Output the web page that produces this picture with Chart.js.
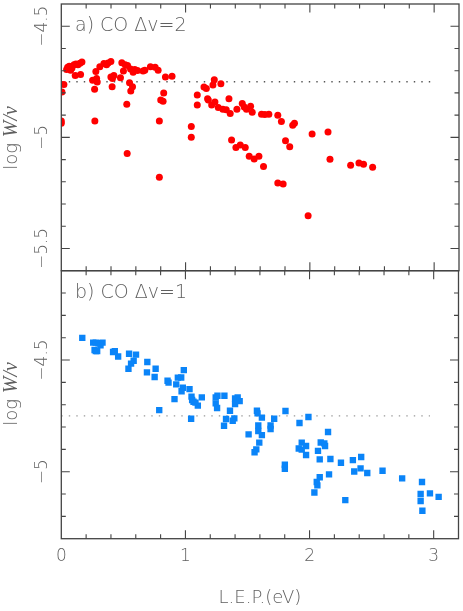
<!DOCTYPE html>
<html>
<head>
<meta charset="utf-8">
<script src="https://cdn.jsdelivr.net/npm/chart.js@4.4.1/dist/chart.umd.min.js"></script>
<style>
  html, body { margin: 0; padding: 0; background: #fff; }
  #wrap { position: relative; width: 463px; height: 611px; }
  #wrap canvas { position: absolute; left: 0; top: 0; }
</style>
</head>
<body>
<div id="wrap">
  <canvas id="dv2" width="463" height="611"></canvas>
  <canvas id="dv1" width="463" height="611"></canvas>
</div>
<script>
// panel a) CO dv=2
const dv2_lep = [0.000,0.000,0.005,0.021,0.043,0.051,0.064,0.075,0.086,0.102,
  0.118,0.134,0.150,0.166,0.112,0.155,0.252,0.268,0.270,0.278,
  0.284,0.289,0.310,0.343,0.364,0.377,0.399,0.399,0.412,0.409,
  0.423,0.476,0.487,0.500,0.514,0.533,0.527,0.530,0.549,0.559,
  0.573,0.557,0.578,0.591,0.613,0.658,0.672,0.717,0.755,0.779,
  0.789,0.789,0.800,0.819,0.824,0.838,0.891,1.046,1.046,1.094,
  1.094,1.148,1.167,1.177,1.183,1.210,1.220,1.231,1.236,1.263,
  1.284,1.300,1.327,1.349,1.359,1.370,1.405,1.413,1.440,1.456,
  1.472,1.480,1.490,1.512,1.523,1.536,1.552,1.590,1.611,1.627,
  1.638,1.670,1.742,1.742,1.771,1.785,1.804,1.838,1.862,1.876,
  1.986,2.018,2.146,2.162,2.328,2.395,2.432,2.505];
const dv2_logw = [-4.926,-4.936,-4.796,-4.762,-4.695,-4.685,-4.680,-4.698,-4.688,-4.673,
  -4.670,-4.673,-4.667,-4.661,-4.722,-4.717,-4.743,-4.784,-4.926,-4.704,
  -4.735,-4.751,-4.682,-4.668,-4.673,-4.665,-4.659,-4.729,-4.735,-4.772,
  -4.722,-4.732,-4.664,-4.702,-4.673,-4.677,-4.851,-5.073,-4.754,-4.792,
  -4.772,-4.692,-4.707,-4.695,-4.699,-4.701,-4.698,-4.682,-4.685,-4.698,
  -4.926,-5.179,-4.832,-4.838,-4.801,-4.729,-4.725,-4.951,-4.999,-4.810,
  -4.854,-4.774,-4.780,-4.826,-4.832,-4.854,-4.765,-4.741,-4.841,-4.866,
  -4.759,-4.874,-4.876,-4.826,-4.893,-5.012,-5.046,-4.874,-5.034,-4.848,
  -4.863,-5.046,-4.874,-5.085,-4.860,-4.887,-5.097,-5.085,-4.896,-5.131,
  -4.897,-4.896,-4.900,-5.205,-4.929,-5.210,-5.015,-5.042,-4.945,-4.936,
  -5.353,-4.985,-4.976,-5.098,-5.125,-5.115,-5.121,-5.135];

// panel b) CO dv=1
const dv1_lep = [0.169,0.257,0.278,0.300,0.316,0.332,0.278,0.289,0.268,0.417,
  0.431,0.458,0.546,0.602,0.583,0.562,0.541,0.693,0.690,0.760,
  0.752,0.856,0.864,0.926,0.939,0.966,0.987,0.979,0.969,0.912,
  0.789,1.033,1.049,1.054,1.065,1.100,1.046,1.132,1.244,1.258,
  1.314,1.244,1.255,1.400,1.421,1.437,1.400,1.359,1.327,1.311,
  1.394,1.381,1.576,1.581,1.616,1.715,1.806,1.587,1.587,1.616,
  1.509,1.686,1.686,1.595,1.571,1.557,1.919,1.991,2.149,1.937,
  1.972,1.913,1.937,1.972,2.068,2.082,2.090,2.119,2.125,2.168,
  1.801,1.801,2.082,2.058,2.063,2.039,2.157,2.253,2.349,2.416,
  2.360,2.411,2.465,2.288,2.588,2.746,2.906,2.895,2.895,2.970,
  3.040,2.909,1.081];
const dv1_logw = [-4.401,-4.422,-4.422,-4.425,-4.434,-4.422,-4.460,-4.460,-4.455,-4.464,
  -4.460,-4.484,-4.472,-4.476,-4.503,-4.516,-4.539,-4.509,-4.555,-4.539,
  -4.576,-4.593,-4.601,-4.609,-4.579,-4.578,-4.545,-4.624,-4.640,-4.675,
  -4.724,-4.630,-4.664,-4.679,-4.687,-4.704,-4.763,-4.667,-4.667,-4.660,
  -4.660,-4.694,-4.715,-4.672,-4.667,-4.684,-4.697,-4.727,-4.764,-4.794,
  -4.761,-4.772,-4.727,-4.739,-4.758,-4.763,-4.728,-4.793,-4.818,-4.836,
  -4.833,-4.793,-4.809,-4.870,-4.900,-4.913,-4.782,-4.755,-4.822,-4.870,
  -4.885,-4.896,-4.901,-4.925,-4.907,-4.945,-4.869,-4.873,-4.885,-4.943,
  -4.969,-4.987,-5.025,-5.046,-5.061,-5.093,-5.012,-4.960,-4.948,-4.934,
  -4.999,-4.985,-5.006,-5.127,-4.996,-5.030,-5.046,-5.100,-5.131,-5.097,
  -5.113,-5.175,-4.691];

// dotted reference level
const ref_lep = [0, 2.97];
const ref_level = -4.75;

// axes
const x_range = [0, 3.2];
const x_ticks = [0, 1, 2, 3];
const dv2_range = [-5.6, -4.4];
const dv2_ticks = [-4.5, -5, -5.5];
const dv1_range = [-5.3, -4.1];
const dv1_ticks = [-4.5, -5];

const INK = '#444';
const TXT = '#606060';
const FONT = "'DejaVu Sans', sans-serif";
const W = '200 ';
const ITAL = 'italic 20px "Liberation Serif", serif';

function fmt(v) {
  return (v < 0 ? '\u2212' : '') + String(Math.abs(v));
}

// frame, inward ticks on four sides, labels
const framePlugin = {
  id: 'frame',
  afterDraw(chart, args, o) {
    const ctx = chart.ctx;
    const a = chart.chartArea;
    const xs = chart.scales.x, ys = chart.scales.y;
    ctx.save();
    ctx.strokeStyle = INK;
    ctx.lineWidth = 1.3;
    ctx.strokeRect(a.left, a.top, a.right - a.left, a.bottom - a.top);

    ctx.lineWidth = 1.1;
    ctx.beginPath();
    for (let k = 1; k < 16; k++) {
      const v = k * 0.2;
      const px = xs.getPixelForValue(v);
      const len = (k % 5 === 0) ? 8.5 : 4.5;
      ctx.moveTo(px, a.bottom); ctx.lineTo(px, a.bottom - len);
      ctx.moveTo(px, a.top); ctx.lineTo(px, a.top + len);
    }
    const y0 = Math.round(ys.min * 10) + 1, y1 = Math.round(ys.max * 10) - 1;
    for (let k = y0; k <= y1; k++) {
      const py = ys.getPixelForValue(k / 10);
      const len = (k % 5 === 0) ? 8.5 : 4.5;
      ctx.moveTo(a.left, py); ctx.lineTo(a.left + len, py);
      ctx.moveTo(a.right, py); ctx.lineTo(a.right - len, py);
    }
    ctx.stroke();

    ctx.fillStyle = TXT;
    // y tick labels, rotated
    ctx.font = W + '17px ' + FONT;
    ctx.textAlign = 'center';
    ctx.textBaseline = 'middle';
    o.yTicks.forEach(v => {
      ctx.save();
      ctx.translate(43, ys.getPixelForValue(v));
      ctx.rotate(-Math.PI / 2);
      ctx.fillText(fmt(v), 0, 0);
      ctx.restore();
    });

    // y title: log W/nu
    ctx.save();
    ctx.translate(12, o.titleY);
    ctx.rotate(-Math.PI / 2);
    ctx.textAlign = 'left';
    ctx.font = W + '18px ' + FONT;
    const w1 = ctx.measureText('log ').width;
    ctx.font = ITAL;
    const w2 = ctx.measureText('W/\u03bd').width;
    ctx.font = W + '18px ' + FONT;
    ctx.fillText('log ', -(w1 + w2) / 2, 0);
    ctx.font = ITAL;
    ctx.fillText('W/\u03bd', -(w1 + w2) / 2 + w1, 0);
    ctx.restore();

    // panel label
    ctx.font = W + '19px ' + FONT;
    ctx.textAlign = 'left';
    ctx.fillText(o.label, 75, a.top + 22);

    if (o.showX) {
      ctx.font = W + '17px ' + FONT;
      ctx.textAlign = 'center';
      x_ticks.forEach(v => ctx.fillText(String(v), xs.getPixelForValue(v), 557));
      ctx.font = W + '18px ' + FONT;
      ctx.fillText('L.E.P.(eV)', (a.left + a.right) / 2, 598);
    }
    ctx.restore();
  }
};

function makePanel(id, pts, style, color, radius, yRange, yTicks, dotColor, pad, label, titleY, showX) {
  new Chart(id, {
    type: 'scatter',
    data: {
      datasets: [{
        data: pts,
        pointStyle: style,
        pointRadius: radius,
        backgroundColor: color,
        borderWidth: 0
      }, {
        type: 'line',
        data: ref_lep.map(x => ({ x: x, y: ref_level })),
        borderColor: dotColor,
        borderWidth: 1.4,
        borderDash: [1.4, 6.1],
        pointRadius: 0,
        fill: false
      }]
    },
    options: {
      responsive: false,
      animation: false,
      devicePixelRatio: 1,
      layout: { padding: pad },
      plugins: {
        legend: { display: false },
        tooltip: { enabled: false },
        frame: { yTicks: yTicks, label: label, titleY: titleY, showX: showX }
      },
      scales: {
        x: { type: 'linear', min: x_range[0], max: x_range[1], display: false },
        y: { type: 'linear', min: yRange[0], max: yRange[1], display: false }
      }
    },
    plugins: [framePlugin]
  });
}

makePanel('dv2', dv2_lep.map((x, i) => ({ x: x, y: dv2_logw[i] })), 'circle', '#ff0000', 3.5,
  dv2_range, dv2_ticks, '#555', { left: 61.3, right: 3, top: 3, bottom: 340.3 },
  'a) CO \u0394v=2', 138, false);
makePanel('dv1', dv1_lep.map((x, i) => ({ x: x, y: dv1_logw[i] })), 'rect', '#0a84f8', 4.5,
  dv1_range, dv1_ticks, '#999', { left: 61.3, right: 3, top: 270.7, bottom: 72.3 },
  'b) CO \u0394v=1', 394, true);
</script>
</body>
</html>
